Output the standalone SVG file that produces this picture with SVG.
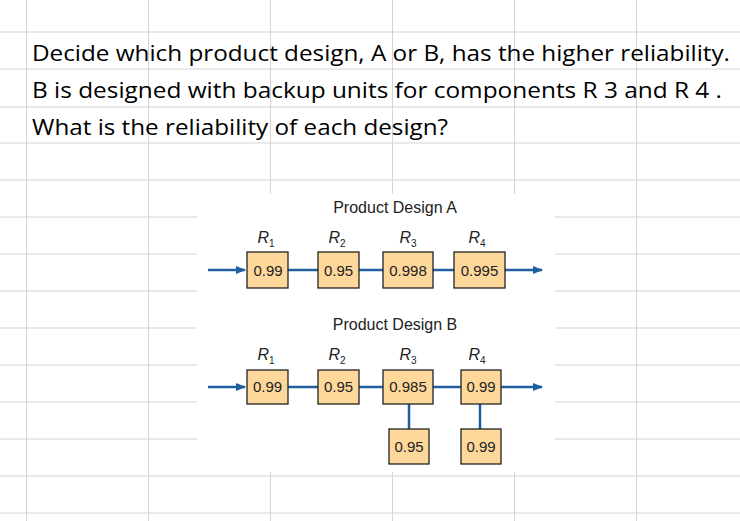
<svg xmlns="http://www.w3.org/2000/svg" width="740" height="521" viewBox="0 0 740 521">
<style>
.g{stroke:#d4d4d4;stroke-width:1}
.q{font-family:"Open Sans","Liberation Sans",sans-serif;font-size:22px;fill:#000}
.b{fill:#fdd89a;stroke:#222;stroke-width:1.3}
.v{font-family:"Liberation Sans",Arial,sans-serif;font-size:15px;fill:#222;text-anchor:middle}
.r{font-family:"Liberation Sans",Arial,sans-serif;font-size:16px;font-style:italic;fill:#222;text-anchor:middle}
.s{font-size:10px;font-style:normal}
.t{font-family:"Liberation Sans",Arial,sans-serif;font-size:16px;fill:#222;text-anchor:middle}
.c{stroke:#1f5fa0;stroke-width:2.5;fill:none}
</style>
<defs><marker id="ar" markerWidth="10" markerHeight="8" refX="9" refY="4" orient="auto" markerUnits="userSpaceOnUse"><path d="M0,0L10,4L0,8z" fill="#1f5fa0"/></marker></defs>
<rect width="740" height="521" fill="#fff"/>
<g id="grid">
<path class="g" d="M0,32H740M0,69H740M0,107H740M0,143H740M0,180H740M0,217H740M0,254H740M0,291H740M0,328H740M0,365H740M0,402H740M0,439H740M0,476H740M0,513H740"/>
<path class="g" d="M26.5,0V521M148.5,0V521M270.5,0V521M392.5,0V521M514.5,0V521M636.5,0V521"/>
</g>
<g id="question">
<text class="q" x="32" y="61" textLength="698" lengthAdjust="spacingAndGlyphs">Decide which product design, A or B, has the higher reliability.</text>
<text class="q" x="32" y="98" textLength="690" lengthAdjust="spacingAndGlyphs">B is designed with backup units for components R 3 and R 4 .</text>
<text class="q" x="32" y="135" textLength="416" lengthAdjust="spacingAndGlyphs">What is the reliability of each design?</text>
</g>
<rect x="197" y="194" width="358" height="278" fill="#fff"/>
<g id="connectors">
<path class="c" d="M208,270H245" marker-end="url(#ar)"/>
<path class="c" d="M288,270H318M359,270H383M433,270H454"/>
<path class="c" d="M505,270H542" marker-end="url(#ar)"/>
<path class="c" d="M208,387H245" marker-end="url(#ar)"/>
<path class="c" d="M288,387H318M359,387H383M433,387H461M409,404V429M480,404V429"/>
<path class="c" d="M501,387H542" marker-end="url(#ar)"/>
</g>
<g id="titleA"><text class="t" x="395" y="213">Product Design A</text></g>
<g id="titleB"><text class="t" x="395" y="330">Product Design B</text></g>
<g id="labelsA">
<text class="r" x="266" y="243">R<tspan class="s" dy="4">1</tspan></text>
<text class="r" x="337" y="243">R<tspan class="s" dy="4">2</tspan></text>
<text class="r" x="408" y="243">R<tspan class="s" dy="4">3</tspan></text>
<text class="r" x="477" y="243">R<tspan class="s" dy="4">4</tspan></text>
</g>
<g id="labelsB">
<text class="r" x="266" y="360">R<tspan class="s" dy="4">1</tspan></text>
<text class="r" x="337" y="360">R<tspan class="s" dy="4">2</tspan></text>
<text class="r" x="408" y="360">R<tspan class="s" dy="4">3</tspan></text>
<text class="r" x="477" y="360">R<tspan class="s" dy="4">4</tspan></text>
</g>
<g id="A1"><rect class="b" x="247" y="252" width="41" height="36"/><text class="v" x="268" y="276">0.99</text></g>
<g id="A2"><rect class="b" x="318" y="252" width="41" height="36"/><text class="v" x="338.5" y="276">0.95</text></g>
<g id="A3"><rect class="b" x="383" y="252" width="50" height="36"/><text class="v" x="408" y="276">0.998</text></g>
<g id="A4"><rect class="b" x="454" y="252" width="51" height="36"/><text class="v" x="479.5" y="276">0.995</text></g>
<g id="B1"><rect class="b" x="247" y="370" width="41" height="34"/><text class="v" x="267.5" y="392">0.99</text></g>
<g id="B2"><rect class="b" x="318" y="370" width="41" height="34"/><text class="v" x="338.5" y="392">0.95</text></g>
<g id="B3"><rect class="b" x="383" y="370" width="50" height="34"/><text class="v" x="408" y="392">0.985</text></g>
<g id="B4"><rect class="b" x="461" y="370" width="40" height="34"/><text class="v" x="481" y="392">0.99</text></g>
<g id="B3b"><rect class="b" x="389" y="429" width="40" height="35"/><text class="v" x="409" y="452">0.95</text></g>
<g id="B4b"><rect class="b" x="461" y="429" width="40" height="35"/><text class="v" x="481" y="452">0.99</text></g>
</svg>
